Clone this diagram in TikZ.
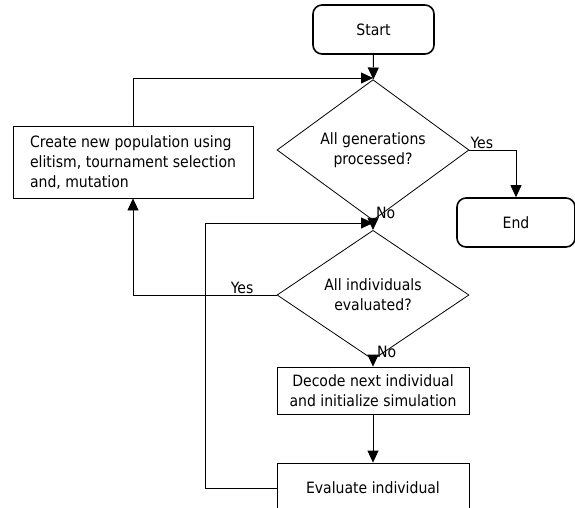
\documentclass[tikz,border=0pt]{standalone}
\usepackage{fontspec}
\setmainfont{DejaVu Sans Condensed}
\usetikzlibrary{shapes.geometric,arrows.meta}
\begin{document}
\begin{tikzpicture}[x=1pt,y=-1pt,
  font=\fontsize{15.6}{20}\selectfont,
  term/.style={draw,rounded corners=9pt,line width=1.6pt,minimum width=121pt,minimum height=49pt,inner sep=0pt},
  proc/.style={draw,line width=0.8pt,minimum width=192pt,inner sep=0pt,align=center},
  dec/.style={draw,diamond,line width=0.8pt,minimum width=192pt,minimum height=96pt,inner sep=0pt,align=center},
  arr/.style={line width=0.8pt,-{Triangle[length=12pt,width=11pt]}},
  lbl/.style={inner sep=1pt}]
\useasboundingbox (0,0) rectangle (575,508);
\clip (0,0) rectangle (575,508);
\node[term] (start) at (373.5,29.5) {Start};
\node[dec] (d1) at (373,150) {All generations\\processed?};
\node[term,minimum width=118pt] (end) at (516,222.5) {End};
\node[proc,minimum width=240pt,minimum height=72pt,align=left] (create) at (133,162) {Create new population using\\elitism, tournament selection\\and, mutation};
\node[dec] (d2) at (373,295) {All individuals\\evaluated?};
\node[proc,minimum height=47pt] (decode) at (373,390.5) {Decode next individual\\and initialize simulation};
\node[proc,minimum height=50pt] (eval) at (373,488) {Evaluate individual};
\coordinate (j1) at (373,78);
\coordinate (j2) at (373,223);
\coordinate (lp) at (205,488);
\draw[arr] (start) -- (d1);
\draw[arr] (create.north) |- (j1);
\draw[arr] (d1.east) -| (end.north);
\node[lbl,anchor=south west] at (d1.east) {Yes};
\draw[arr] (d1.south) -- (d2.north);
\node[lbl,anchor=west] at (375,213) {No};
\draw[arr] (d2.west) -| (create.south);
\node[lbl,anchor=south east] at ([xshift=-22pt]d2.west) {Yes};
\draw[arr] (d2.south) -- (decode.north);
\node[lbl,anchor=west] at (376,352) {No};
\draw[arr] (decode) -- (eval);
\draw[arr] (eval.west) -- (lp) |- (j2);
\end{tikzpicture}
\end{document}
